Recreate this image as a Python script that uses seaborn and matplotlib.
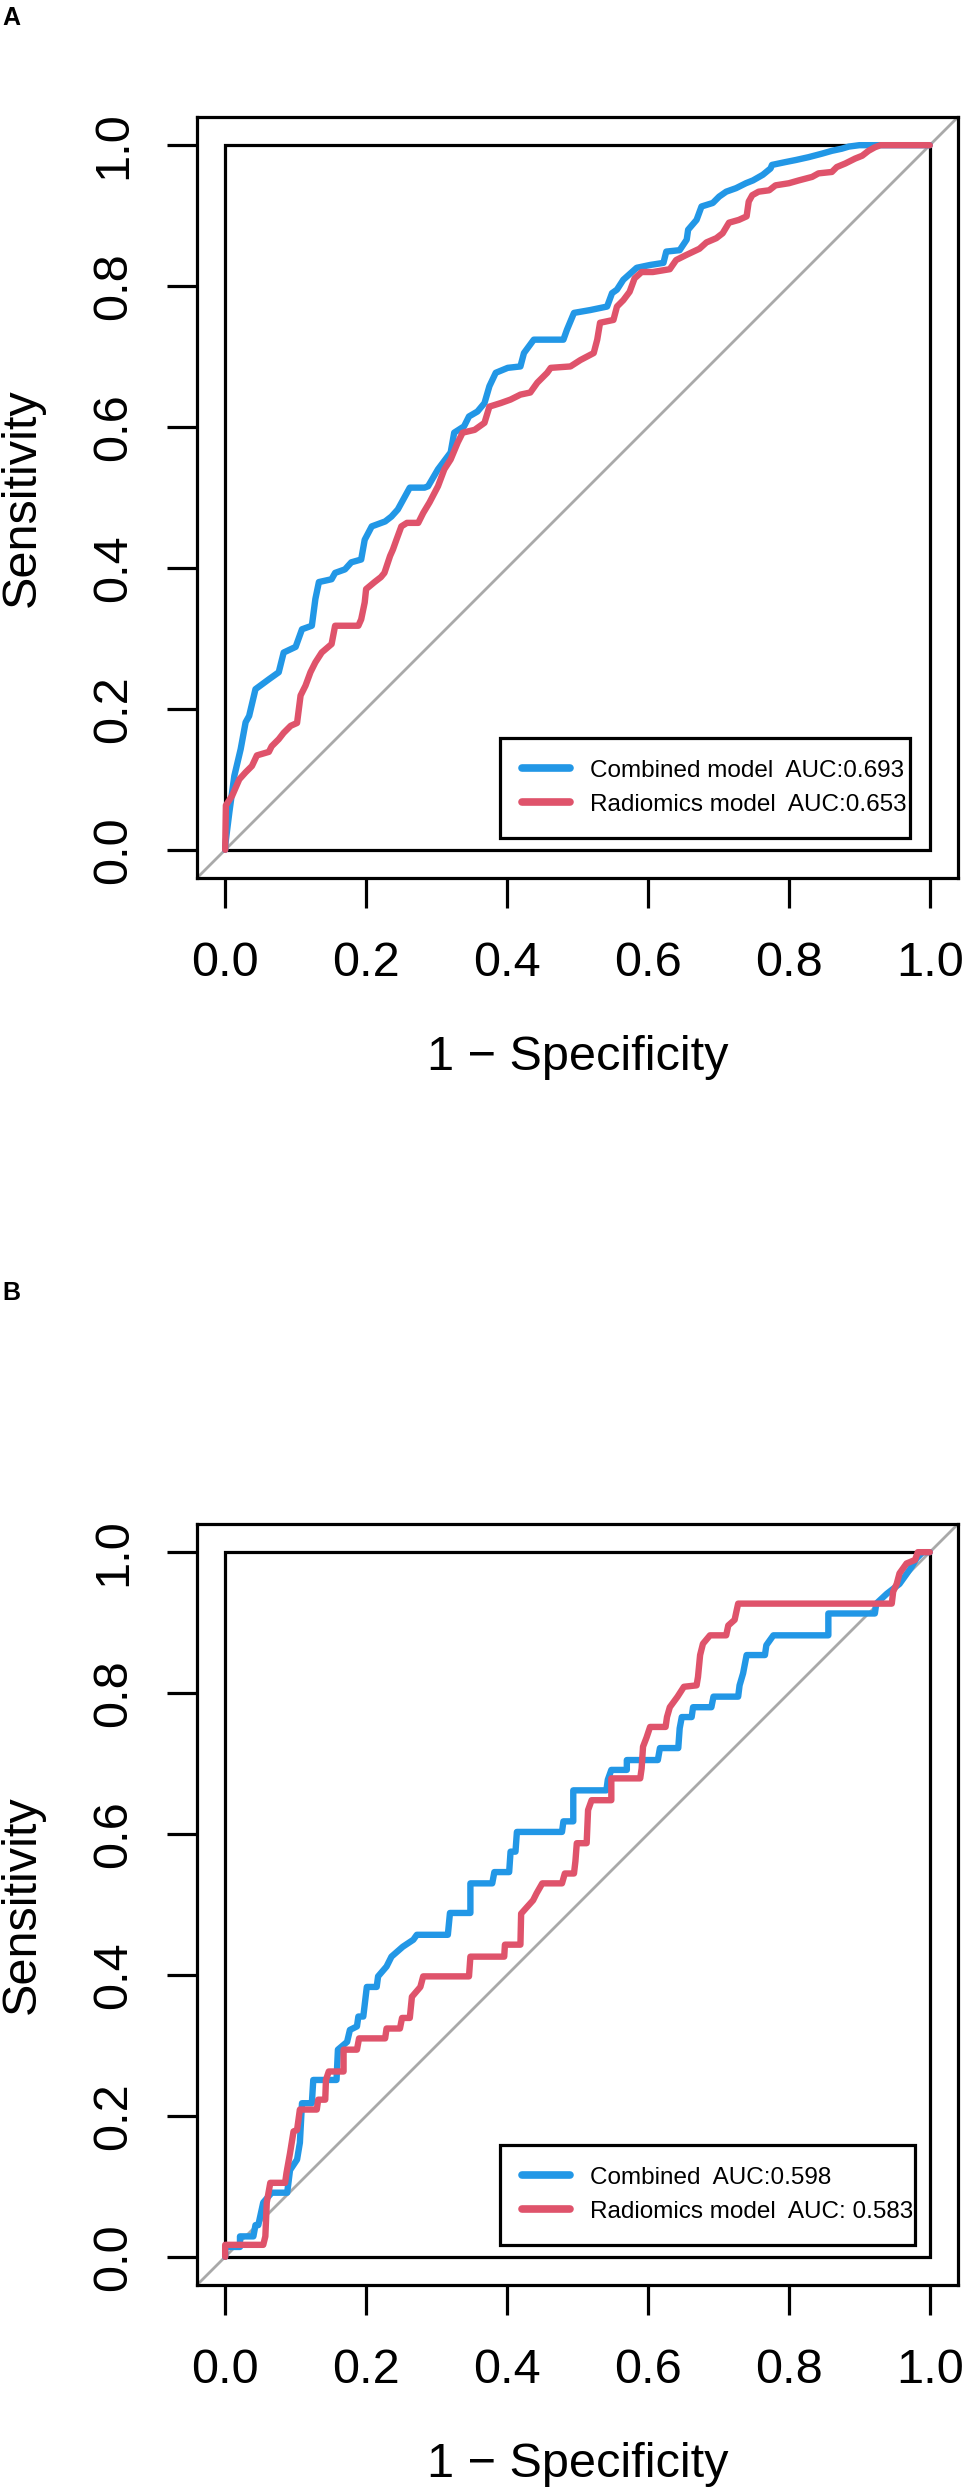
"""ROC curves of combined vs radiomics model (panels A and B)."""

import numpy as np
import pandas as pd
import matplotlib
matplotlib.use("Agg")
import matplotlib.pyplot as plt
from matplotlib.patches import Rectangle
import seaborn as sns


sns.set_style("white")
plt.rcParams["font.family"] = ["Liberation Sans", "DejaVu Sans"]
plt.rcParams["axes.unicode_minus"] = True
for key in ["text.color", "axes.labelcolor", "xtick.color", "ytick.color", "axes.edgecolor"]:
    plt.rcParams[key] = "black"

BLUE = "#2297E6"
RED = "#DF536B"
GREY = "#A9A9A9"

# Panel A (training)
a_comb_fpr = [0.0, 0.0, 0.006, 0.013, 0.022, 0.029, 0.034, 0.043, 0.062, 0.076, 0.083, 0.1, 0.109,
              0.123, 0.128, 0.133, 0.151, 0.156, 0.17, 0.179, 0.193, 0.198, 0.208, 0.227, 0.236,
              0.245, 0.262, 0.283, 0.288, 0.302, 0.32, 0.325, 0.339, 0.346, 0.358, 0.368, 0.375,
              0.384, 0.401, 0.419, 0.424, 0.438, 0.48, 0.485, 0.495, 0.518, 0.542, 0.549, 0.556,
              0.565, 0.584, 0.603, 0.622, 0.626, 0.645, 0.655, 0.657, 0.669, 0.676, 0.692, 0.701,
              0.711, 0.725, 0.739, 0.749, 0.763, 0.774, 0.776, 0.795, 0.81, 0.828, 0.847, 0.861,
              0.875, 0.885, 0.9, 1.0]
a_comb_tpr = [0.0, 0.006, 0.054, 0.105, 0.143, 0.181, 0.19, 0.228, 0.242, 0.252, 0.28, 0.288, 0.313,
              0.318, 0.356, 0.38, 0.384, 0.393, 0.398, 0.408, 0.412, 0.44, 0.459, 0.466, 0.473,
              0.483, 0.514, 0.514, 0.516, 0.54, 0.564, 0.592, 0.601, 0.615, 0.622, 0.634, 0.658,
              0.677, 0.684, 0.686, 0.705, 0.724, 0.724, 0.738, 0.762, 0.766, 0.771, 0.79, 0.795,
              0.809, 0.826, 0.83, 0.833, 0.849, 0.851, 0.866, 0.88, 0.894, 0.913, 0.918, 0.927,
              0.934, 0.939, 0.946, 0.95, 0.958, 0.967, 0.972, 0.976, 0.979, 0.983, 0.988, 0.992,
              0.995, 0.998, 1.0, 1.0]

a_rad_fpr = [0.0, 0.001, 0.01, 0.02, 0.029, 0.038, 0.045, 0.062, 0.066, 0.076, 0.083, 0.093, 0.102,
             0.107, 0.114, 0.121, 0.128, 0.137, 0.151, 0.156, 0.189, 0.193, 0.198, 0.2, 0.212,
             0.221, 0.226, 0.234, 0.238, 0.243, 0.25, 0.258, 0.274, 0.281, 0.29, 0.302, 0.311,
             0.32, 0.33, 0.337, 0.354, 0.368, 0.375, 0.391, 0.405, 0.419, 0.433, 0.443, 0.457,
             0.462, 0.49, 0.504, 0.523, 0.528, 0.532, 0.551, 0.556, 0.565, 0.574, 0.581, 0.591,
             0.607, 0.631, 0.64, 0.654, 0.673, 0.683, 0.697, 0.706, 0.715, 0.729, 0.74, 0.743,
             0.748, 0.757, 0.772, 0.781, 0.8, 0.814, 0.833, 0.842, 0.861, 0.868, 0.88, 0.894,
             0.904, 0.913, 0.922, 0.93, 1.0]
a_rad_tpr = [0.0, 0.063, 0.077, 0.1, 0.11, 0.119, 0.134, 0.139, 0.147, 0.157, 0.166, 0.176, 0.18,
             0.219, 0.233, 0.252, 0.266, 0.28, 0.292, 0.318, 0.318, 0.327, 0.351, 0.37, 0.38,
             0.387, 0.393, 0.417, 0.426, 0.44, 0.459, 0.464, 0.464, 0.478, 0.493, 0.516, 0.54,
             0.554, 0.578, 0.592, 0.596, 0.606, 0.629, 0.634, 0.639, 0.646, 0.649, 0.663, 0.677,
             0.684, 0.686, 0.695, 0.705, 0.724, 0.748, 0.752, 0.771, 0.78, 0.792, 0.811, 0.82,
             0.82, 0.824, 0.837, 0.844, 0.853, 0.862, 0.868, 0.875, 0.89, 0.894, 0.899, 0.92,
             0.929, 0.934, 0.936, 0.943, 0.946, 0.95, 0.955, 0.96, 0.962, 0.969, 0.974, 0.981,
             0.985, 0.992, 0.997, 1.0, 1.0]

# Panel B (validation)
b_comb_fpr = [0.0, 0.0, 0.021, 0.021, 0.04, 0.043, 0.047, 0.054, 0.066, 0.088, 0.092, 0.102, 0.106,
              0.109, 0.123, 0.125, 0.158, 0.16, 0.173, 0.177, 0.187, 0.189, 0.196, 0.201, 0.215,
              0.217, 0.229, 0.236, 0.252, 0.267, 0.272, 0.316, 0.319, 0.348, 0.348, 0.379, 0.382,
              0.403, 0.405, 0.412, 0.414, 0.478, 0.48, 0.494, 0.494, 0.541, 0.543, 0.548, 0.57,
              0.57, 0.614, 0.617, 0.643, 0.645, 0.648, 0.662, 0.664, 0.69, 0.693, 0.728, 0.73,
              0.735, 0.74, 0.766, 0.768, 0.778, 0.856, 0.856, 0.922, 0.924, 0.939, 0.957, 0.967,
              0.974, 0.981, 0.99, 1.0]
b_comb_tpr = [0.0, 0.014, 0.014, 0.029, 0.029, 0.045, 0.045, 0.077, 0.091, 0.091, 0.123, 0.138, 0.162,
              0.218, 0.218, 0.251, 0.251, 0.294, 0.305, 0.322, 0.327, 0.341, 0.341, 0.383, 0.383,
              0.398, 0.412, 0.426, 0.44, 0.45, 0.457, 0.457, 0.488, 0.488, 0.53, 0.53, 0.546,
              0.546, 0.575, 0.575, 0.603, 0.603, 0.618, 0.618, 0.662, 0.662, 0.677, 0.691, 0.691,
              0.705, 0.705, 0.722, 0.722, 0.75, 0.766, 0.766, 0.78, 0.78, 0.795, 0.795, 0.811,
              0.828, 0.854, 0.854, 0.868, 0.882, 0.882, 0.913, 0.913, 0.927, 0.941, 0.955, 0.969,
              0.979, 0.991, 1.0, 1.0]

b_rad_fpr = [0.0, 0.0, 0.054, 0.057, 0.059, 0.064, 0.085, 0.087, 0.092, 0.097, 0.102, 0.106, 0.13,
             0.132, 0.142, 0.143, 0.147, 0.168, 0.168, 0.187, 0.19, 0.227, 0.229, 0.248, 0.251,
             0.262, 0.265, 0.277, 0.281, 0.346, 0.348, 0.396, 0.397, 0.419, 0.42, 0.428, 0.437,
             0.442, 0.45, 0.478, 0.482, 0.495, 0.497, 0.499, 0.513, 0.515, 0.52, 0.548, 0.548,
             0.589, 0.591, 0.593, 0.598, 0.603, 0.625, 0.627, 0.631, 0.642, 0.651, 0.669, 0.671,
             0.674, 0.678, 0.688, 0.711, 0.714, 0.723, 0.726, 0.728, 0.946, 0.948, 0.953, 0.957,
             0.967, 0.979, 0.983, 1.0]
b_rad_tpr = [0.0, 0.017, 0.017, 0.029, 0.077, 0.105, 0.105, 0.119, 0.147, 0.178, 0.18, 0.209, 0.209,
             0.223, 0.223, 0.251, 0.263, 0.263, 0.294, 0.294, 0.31, 0.31, 0.324, 0.324, 0.339,
             0.339, 0.369, 0.383, 0.398, 0.398, 0.426, 0.426, 0.443, 0.443, 0.487, 0.496, 0.506,
             0.516, 0.53, 0.53, 0.544, 0.544, 0.561, 0.587, 0.587, 0.634, 0.648, 0.648, 0.679,
             0.679, 0.693, 0.724, 0.737, 0.752, 0.752, 0.766, 0.78, 0.795, 0.809, 0.811, 0.823,
             0.854, 0.87, 0.882, 0.882, 0.896, 0.904, 0.918, 0.927, 0.927, 0.944, 0.955, 0.97,
             0.984, 0.989, 1.0, 1.0]

a_labels = ["Combined model  AUC:0.693", "Radiomics model  AUC:0.653"]
b_labels = ["Combined  AUC:0.598", "Radiomics model  AUC: 0.583"]

ticks = [0.0, 0.2, 0.4, 0.6, 0.8, 1.0]
tick_labels = ["0.0", "0.2", "0.4", "0.6", "0.8", "1.0"]

W, H = 964, 2491
fig = plt.figure(figsize=(W / 100, H / 100), dpi=100)


def roc_panel(ax, comb, rad, labels, leg_right):
    lim = (-0.04, 1.04)
    ax.set_xlim(lim)
    ax.set_ylim(lim)

    # chance line and the inner unit box
    ax.axline((0, 0), (1, 1), color=GREY, lw=2.0, zorder=1)
    ax.add_patch(Rectangle((0, 0), 1, 1, fill=False, ec="black", lw=2.3, zorder=2))

    for (fpr, tpr), col, lab in zip([comb, rad], [BLUE, RED], labels):
        df = pd.DataFrame({"fpr": fpr, "tpr": tpr})
        sns.lineplot(data=df, x="fpr", y="tpr", sort=False, estimator=None,
                     color=col, linewidth=4.6, label=lab, ax=ax, zorder=3)

    for s in ax.spines.values():
        s.set_visible(True)
        s.set_color("black")
        s.set_linewidth(2.3)

    ax.set_xticks(ticks)
    ax.set_xticklabels(tick_labels)
    ax.set_yticks(ticks)
    ax.set_yticklabels(tick_labels)
    ax.tick_params(axis="both", direction="out", length=21.6, width=2.3, labelsize=35,
                   color="black", labelcolor="black", bottom=True, left=True)
    ax.tick_params(axis="x", pad=24)
    ax.tick_params(axis="y", pad=22, labelrotation=90)
    for t in ax.get_yticklabels():
        t.set_va("center")

    ax.set_xlabel("1 \u2212 Specificity", fontsize=35, color="black")
    ax.set_ylabel("Sensitivity", fontsize=35, color="black")
    ax.xaxis.set_label_coords(0.5, -0.2365)
    ax.xaxis.label.set_va("center")
    ax.yaxis.set_label_coords(-0.230, 0.5)
    ax.yaxis.label.set_va("center")

    leg = ax.legend(loc="lower left", bbox_to_anchor=(0.398, 0.053, leg_right - 0.398, 0.2),
                    mode="expand", fontsize=17.5, frameon=True, fancybox=False,
                    edgecolor="black", framealpha=1, handlelength=2.0, handletextpad=0.8,
                    borderpad=0.9, labelspacing=0.5, borderaxespad=0)
    leg.get_frame().set_linewidth(2.3)
    for line in leg.get_lines():
        line.set_linewidth(5.5)
    for txt in leg.get_texts():
        txt.set_color("black")


ax_a = fig.add_axes([197 / W, 1 - 878 / H, 761 / W, 761 / H])
roc_panel(ax_a, (a_comb_fpr, a_comb_tpr), (a_rad_fpr, a_rad_tpr), a_labels, 0.937)

ax_b = fig.add_axes([197 / W, 1 - 2285 / H, 761 / W, 761 / H])
roc_panel(ax_b, (b_comb_fpr, b_comb_tpr), (b_rad_fpr, b_rad_tpr), b_labels, 0.944)

fig.text(11 / W, 1 - 18 / H, "A", ha="center", va="center", fontsize=18, fontweight="bold")
fig.text(11 / W, 1 - 1293 / H, "B", ha="center", va="center", fontsize=18, fontweight="bold")

fig.savefig("out.png", dpi=100)
